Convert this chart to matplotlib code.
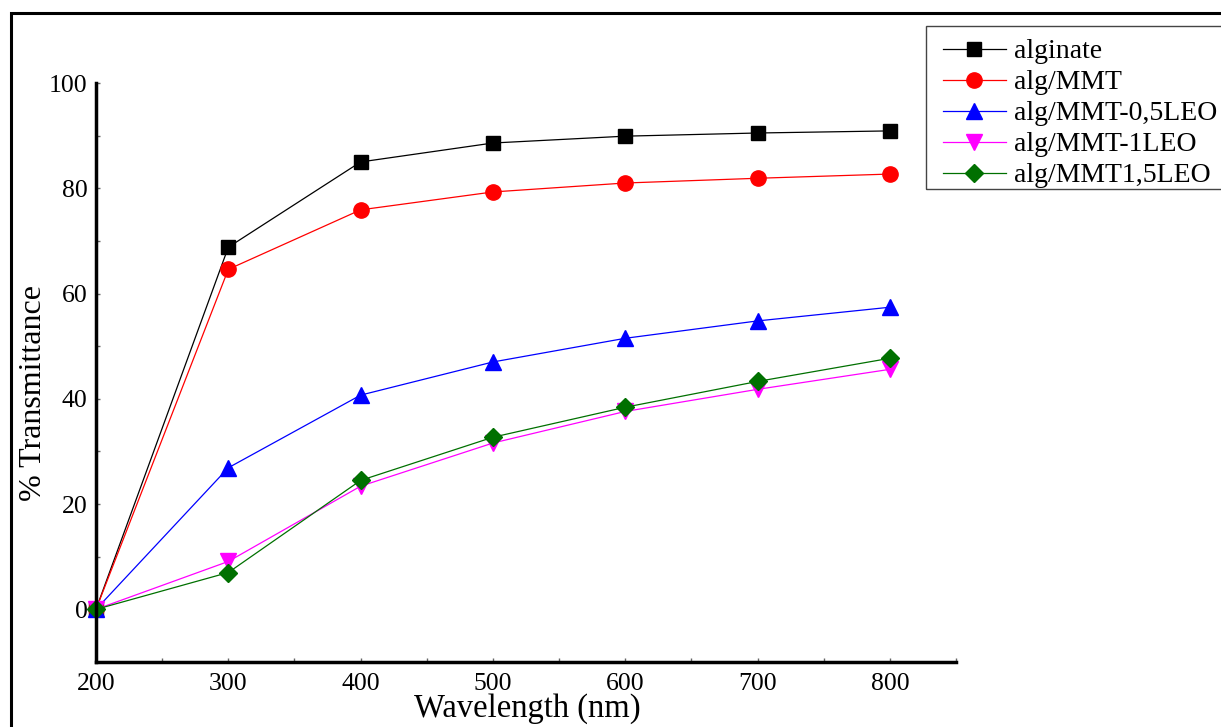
import matplotlib.pyplot as plt
import matplotlib.patches as mpatches
import numpy as np

plt.rcParams['font.family'] = ['Liberation Serif', 'DejaVu Serif']

wavelength = [200, 300, 400, 500, 600, 700, 800]
alginate = [0, 68.8, 85.0, 88.6, 89.9, 90.5, 90.9]
alg_mmt = [0, 64.6, 75.9, 79.3, 81.0, 81.9, 82.7]
alg_mmt_05leo = [0, 26.9, 40.7, 47.0, 51.5, 54.8, 57.4]
alg_mmt_1leo = [0, 9.1, 23.4, 31.6, 37.6, 41.8, 45.6]
alg_mmt_15leo = [0, 7.0, 24.5, 32.7, 38.4, 43.3, 47.7]

series = [
    ("alginate", alginate, "black", "s", 10),
    ("alg/MMT", alg_mmt, "red", "o", 11),
    ("alg/MMT-0,5LEO", alg_mmt_05leo, "blue", "^", 11),
    ("alg/MMT-1LEO", alg_mmt_1leo, "magenta", "v", 11),
    ("alg/MMT1,5LEO", alg_mmt_15leo, "#007000", "D", 9),
]

W, H = 1221, 727
fig = plt.figure(figsize=(W/100, H/100), dpi=100)
ax = fig.add_axes([96/W, 1-662/H, (956-96)/W, (662-83)/H])

for name, vals, col, mk, ms in series:
    ax.plot(wavelength, vals, color=col, marker=mk, markersize=ms, lw=0.9,
            label=name, markeredgecolor=col, clip_on=False)

ax.set_xlim(200, 850)
ax.set_ylim(-10, 100)
ax.set_xticks([200, 300, 400, 500, 600, 700, 800])
ax.set_xticks(np.arange(200, 851, 50), minor=True)
ax.set_yticks([0, 20, 40, 60, 80, 100])
ax.set_yticks(np.arange(-10, 101, 10), minor=True)
ax.tick_params(which='both', direction='in', length=3, width=1, color='#666666')
ax.tick_params(axis='x', labelsize=18.5, pad=8)
ax.tick_params(axis='y', labelsize=18.5, pad=6)

for s in ['top', 'right']:
    ax.spines[s].set_visible(False)
for s in ['left', 'bottom']:
    ax.spines[s].set_linewidth(2.5)

fig.text(527/W, 1-717/H, "Wavelength (nm)", fontsize=23.5, ha='center', va='baseline')
fig.text(34/W, 1-393/H, "% Transmittance", fontsize=23, ha='center', va='center', rotation=90)

# legend without its own frame; box drawn separately
leg = fig.legend(loc='upper left', bbox_to_anchor=(943/W, 1-39/H), fontsize=20,
                 handlelength=2.25, labelspacing=0.2, borderpad=0, handletextpad=0.3,
                 frameon=False, borderaxespad=0)
fig.patches.append(mpatches.Rectangle((926/W, 1-189/H), 0.3, (189-26)/H,
                                      transform=fig.transFigure, fill=False,
                                      edgecolor='#444444', lw=1))

# outer frame around the figure
fig.patches.append(mpatches.Rectangle((11/W, -0.05), 1.1, 1-13/H+0.05,
                                      transform=fig.transFigure, fill=False,
                                      edgecolor='black', lw=2.2))

fig.savefig("out.png", dpi=100)
